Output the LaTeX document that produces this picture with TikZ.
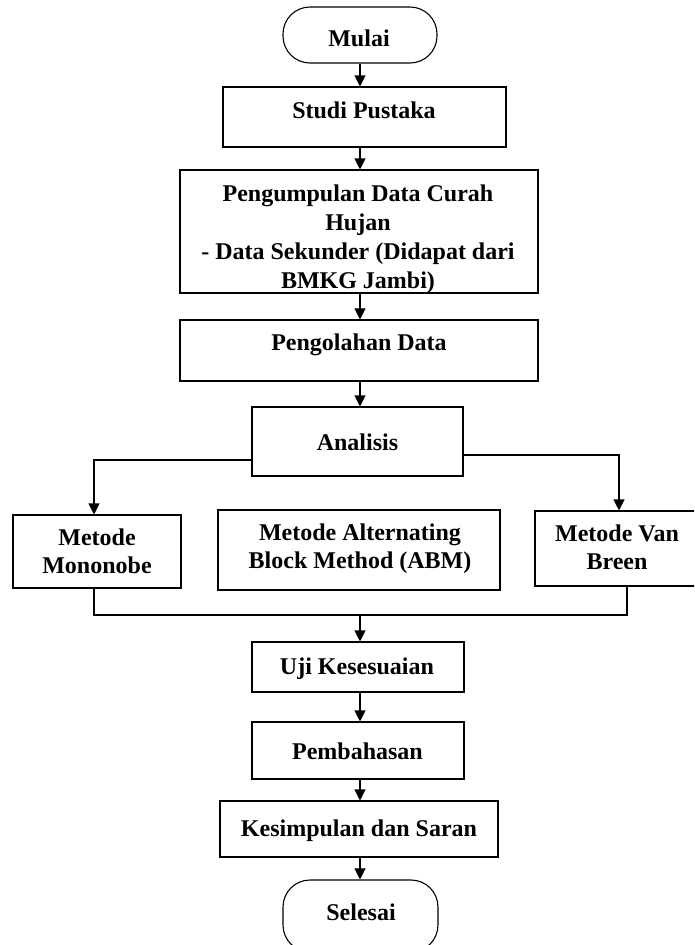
\documentclass[tikz,border=0pt]{standalone}
\usepackage{fontspec}
\setmainfont{Liberation Serif}
\usetikzlibrary{arrows.meta}
\begin{document}
\begin{tikzpicture}[x=1pt,y=-1pt,
  box/.style={draw, line width=1.1pt, inner sep=0pt},
  term/.style={box, rounded corners=27pt},
  txt/.style={font=\fontsize{24}{29}\selectfont\bfseries, align=center, inner sep=0pt},
  txtb/.style={font=\fontsize{24}{28}\selectfont\bfseries, align=center, inner sep=0pt},
  arr/.style={line width=1.1pt, -{Triangle[width=11pt,length=11pt]}},
  ln/.style={line width=1.1pt}]
\useasboundingbox (0,0) rectangle (694,945);
\clip (0,0) rectangle (694,945);
\coordinate (spine) at (360,0);

% boxes
\node[term, minimum width=154pt, minimum height=56pt] (mulai) at (360,35) {};
\node[box, minimum width=283pt, minimum height=60pt] (studi) at (364.5,117) {};
\node[box, minimum width=358pt, minimum height=123pt] (kumpul) at (359,231.5) {};
\node[box, minimum width=358pt, minimum height=61pt] (olah) at (359,350.5) {};
\node[box, minimum width=211pt, minimum height=69pt] (analisis) at (357.5,441.5) {};
\node[box, minimum width=168pt, minimum height=73pt] (mono) at (97,551.5) {};
\node[box, minimum width=282pt, minimum height=80pt] (abm) at (359,550) {};
\node[box, minimum width=170pt, minimum height=75pt] (van) at (620,548.5) {};
\node[box, minimum width=212pt, minimum height=50pt] (uji) at (358,667) {};
\node[box, minimum width=212pt, minimum height=57pt] (bahas) at (358,750.5) {};
\node[box, minimum width=278pt, minimum height=56pt] (simpul) at (359,829) {};
\node[term, minimum width=155pt, minimum height=72pt] (selesai) at (360.5,916) {};

% texts
\node[txt] (tmulai) at (359,38) {Mulai};
\node[txt] (tstudi) at (364,110) {Studi Pustaka};
\node[txt] (tkumpul) at (358,239) {Pengumpulan Data Curah\\Hujan\\- Data Sekunder (Didapat dari\\BMKG Jambi)};
\node[txt] (tolah) at (359,344.5) {Pengolahan Data};
\node[txt] (tanalisis) at (357.5,442) {Analisis};
\node[txtb] (tmono) at (97,551.5) {Metode\\Mononobe};
\node[txtb] (tabm) at (360,549) {Metode Alternating\\Block Method (ABM)};
\node[txtb] (tvan) at (617,547.5) {Metode Van\\Breen};
\node[txt] (tuji) at (357,669) {Uji Kesesuaian};
\node[txt] (tbahas) at (357.5,751.5) {Pembahasan};
\node[txt] (tsimpul) at (359,830.5) {Kesimpulan dan Saran};
\node[txt] (tselesai) at (361,912) {Selesai};

% vertical arrows
\draw[arr] (mulai.south -| spine) -- (studi.north -| spine);
\draw[arr] (studi.south -| spine) -- (kumpul.north -| spine);
\draw[arr] (kumpul.south -| spine) -- (olah.north -| spine);
\draw[arr] (olah.south -| spine) -- (analisis.north -| spine);

% branches
\coordinate (aL) at ([yshift=-18.5pt]analisis.west);
\coordinate (aR) at ([yshift=-13.5pt]analisis.east);
\coordinate (monoTop) at ([xshift=-3pt]mono.north);
\coordinate (vanTop) at ([xshift=-1pt]van.north);
\draw[arr] (aL) -| (monoTop);
\draw[arr] (aR) -| (vanTop);

% merge
\coordinate (monoBot) at ([xshift=-3pt]mono.south);
\coordinate (vanBot) at ([xshift=7pt]van.south);
\coordinate (merge) at (360,615);
\draw[ln] (monoBot) |- (merge -| vanBot) -- (vanBot);
\draw[arr] (merge) -- (uji.north -| spine);

\draw[arr] (uji.south -| spine) -- (bahas.north -| spine);
\draw[arr] (bahas.south -| spine) -- (simpul.north -| spine);
\draw[arr] (simpul.south -| spine) -- (selesai.north -| spine);
\end{tikzpicture}
\end{document}
